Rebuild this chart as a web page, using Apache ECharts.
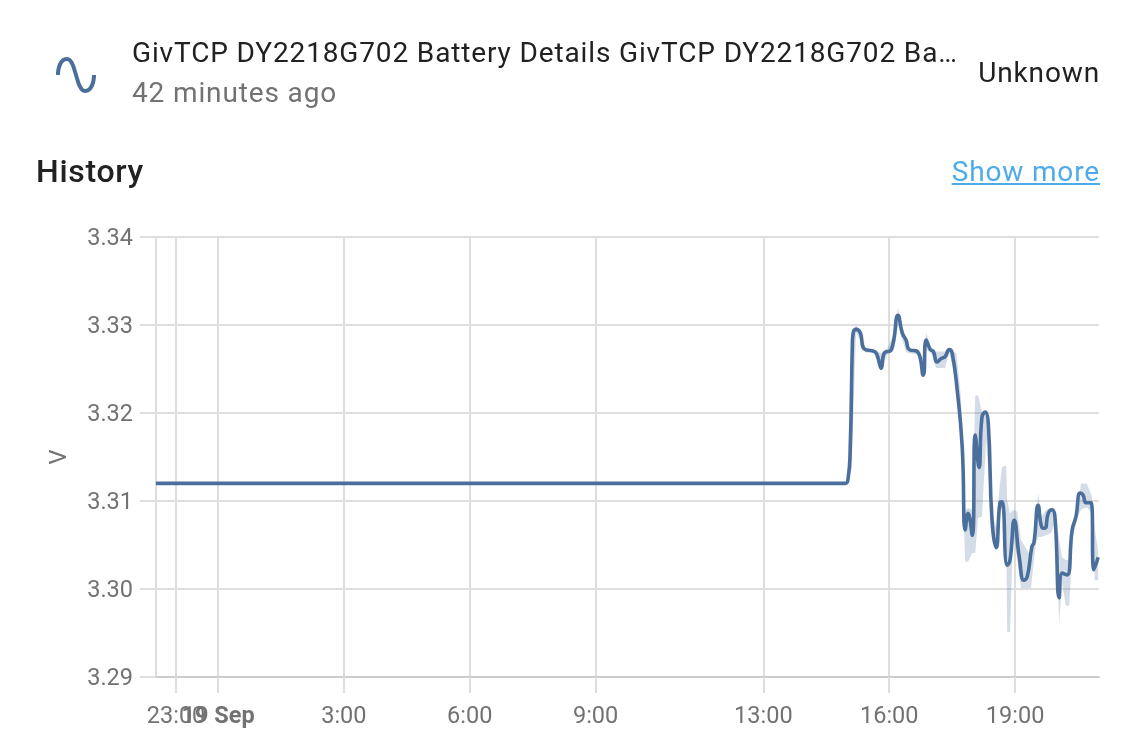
<!DOCTYPE html>
<html><head><meta charset="utf-8">
<script src="https://cdn.jsdelivr.net/npm/echarts@6/dist/echarts.min.js"></script>
<style>
html,body{margin:0;padding:0;background:#fff;width:1122px;height:742px;overflow:hidden;font-family:Roboto,sans-serif}
#chart{position:absolute;left:0;top:0;width:1122px;height:742px}
.t{position:absolute;white-space:nowrap}
</style></head><body>
<div id="chart"></div>
<svg class="t" style="left:52px;top:51px" width="48" height="48" viewBox="0 0 24 24"><path fill="#4a6f9c" d="M16.5,21C13.5,21 12.31,16.76 11.05,12.28C10.14,9.04 9,5 7.5,5C4.11,5 4,11.93 4,12H2C2,11.63 2.06,3 7.5,3C10.5,3 11.71,7.25 12.97,11.74C13.83,14.8 15,19 16.5,19C19.94,19 20.03,12.07 20.03,12H22.03C22.03,12.37 21.97,21 16.5,21Z"/></svg>
<div class="t" style="left:132px;top:37px;font-size:28px;letter-spacing:.86px;color:#212121;line-height:32px">GivTCP DY2218G702 Battery Details GivTCP DY2218G702 Ba…</div>
<div class="t" style="left:132px;top:77px;font-size:28px;letter-spacing:.86px;color:#727272;line-height:32px">42 minutes ago</div>
<div class="t" style="right:22px;top:57px;font-size:28px;letter-spacing:.86px;color:#212121;line-height:32px">Unknown</div>
<div class="t" style="left:36px;top:153px;font-size:32px;font-weight:500;letter-spacing:.7px;color:#212121;line-height:36px">History</div>
<div class="t" style="right:22px;top:156px;font-size:28px;letter-spacing:.86px;color:#4dabea;text-decoration:underline;line-height:32px">Show more</div>
<script>
const hourTicks = [-1, 0, 3, 6, 9, 13, 16, 19];
const hourLabels = ['23:00', '19 Sep', '3:00', '6:00', '9:00', '13:00', '16:00', '19:00'];
const dayTick = [0];
const timeTicks = hourTicks.filter(h => !dayTick.includes(h));
const voltTicks = [3.29, 3.30, 3.31, 3.32, 3.33, 3.34];
const meanHours = [-1.48,14.95,15.02,15.07,15.12,15.14,15.21,15.31,15.40,15.64,15.71,15.81,15.88,16.05,16.21,16.31,16.40,16.48,16.67,16.81,16.88,16.98,17.05,17.14,17.24,17.33,17.43,17.50,17.62,17.74,17.81,17.88,17.98,18.05,18.14,18.21,18.29,18.36,18.45,18.55,18.64,18.69,18.81,18.88,18.98,19.10,19.21,19.29,19.40,19.45,19.55,19.64,19.71,19.79,19.88,19.95,20.05,20.12,20.24,20.36,20.45,20.55,20.62,20.69,20.81,20.88,20.98];
const meanVolts = [3.3120,3.3120,3.3126,3.3158,3.3277,3.3291,3.3295,3.3291,3.3273,3.3270,3.3266,3.3251,3.3268,3.3272,3.3311,3.3291,3.3283,3.3272,3.3270,3.3243,3.3283,3.3272,3.3270,3.3258,3.3262,3.3264,3.3272,3.3268,3.3226,3.3161,3.3067,3.3086,3.3061,3.3175,3.3138,3.3195,3.3201,3.3189,3.3078,3.3047,3.3098,3.3099,3.3027,3.3033,3.3078,3.3036,3.3010,3.3014,3.3048,3.3053,3.3095,3.3070,3.3069,3.3086,3.3090,3.3082,3.2990,3.3018,3.3016,3.3067,3.3082,3.3109,3.3107,3.3098,3.3098,3.3022,3.3036];
const bandHours = [15.00,15.10,15.21,15.36,15.43,15.64,15.81,15.95,16.12,16.21,16.31,16.40,16.48,16.71,16.81,16.88,17.00,17.12,17.33,17.43,17.60,17.71,17.81,17.88,17.98,18.05,18.12,18.21,18.31,18.38,18.45,18.55,18.62,18.69,18.79,18.81,18.88,18.95,19.05,19.14,19.33,19.38,19.45,19.50,19.55,19.62,19.74,19.86,19.95,20.00,20.05,20.12,20.21,20.29,20.38,20.48,20.57,20.71,20.83,20.90,20.98];
const bandMax = [3.3120,3.3289,3.3300,3.3291,3.3274,3.3272,3.3268,3.3273,3.3291,3.3320,3.3294,3.3286,3.3273,3.3272,3.3263,3.3291,3.3274,3.3270,3.3270,3.3273,3.3268,3.3218,3.3090,3.3092,3.3090,3.3220,3.3220,3.3201,3.3203,3.3173,3.3086,3.3070,3.3112,3.3139,3.3140,3.3101,3.3086,3.3090,3.3088,3.3056,3.3041,3.3041,3.3059,3.3078,3.3109,3.3082,3.3090,3.3092,3.3090,3.3073,3.3056,3.3036,3.3033,3.3033,3.3078,3.3090,3.3120,3.3120,3.3105,3.3067,3.3044];
const bandMin = [3.3120,3.3135,3.3291,3.3277,3.3269,3.3268,3.3247,3.3266,3.3272,3.3300,3.3283,3.3269,3.3268,3.3266,3.3241,3.3272,3.3268,3.3251,3.3251,3.3269,3.3232,3.3169,3.3031,3.3031,3.3041,3.3041,3.3081,3.3082,3.3169,3.3124,3.3075,3.3044,3.3086,3.3093,3.3067,3.2951,3.2951,3.3067,3.3033,3.3001,3.3001,3.3001,3.3033,3.3052,3.3059,3.3059,3.3061,3.3064,3.3075,3.3033,3.2961,3.3007,3.2981,3.2981,3.3059,3.3081,3.3090,3.3093,3.3086,3.3010,3.3010];

const chart = echarts.init(document.getElementById('chart'), null, {renderer:'canvas'});
const labelColor = '#727272', gridColor = '#dedede', lineColor = '#4a6f9c';
const xMin = -1.478, xMax = 21.0;
const xLabelFor = v => hourLabels[hourTicks.indexOf(v)];
chart.setOption({
  animation:false,
  backgroundColor:'#fff',
  grid:{left:156,right:23,top:237,height:440,containLabel:false},
  xAxis:[{
    type:'value', min:xMin, max:xMax,
    axisLine:{show:true,onZero:false,lineStyle:{color:'#ccc',width:2}},
    axisTick:{show:true,customValues:hourTicks,length:16,lineStyle:{color:gridColor,width:2}},
    axisLabel:{
      customValues:timeTicks,hideOverlap:false,margin:28,
      color:labelColor,fontFamily:'Roboto',fontSize:23.5,
      formatter:xLabelFor
    },
    splitLine:{show:true,lineStyle:{color:gridColor,width:2}}
  },{
    type:'value', min:xMin, max:xMax, position:'bottom',
    axisLine:{show:false,onZero:false},
    axisTick:{show:false},
    splitLine:{show:false},
    axisLabel:{
      customValues:dayTick,hideOverlap:false,margin:28,
      color:labelColor,fontFamily:'Roboto',fontSize:23.5,fontWeight:'bold',
      formatter:xLabelFor
    }
  }],
  yAxis:{
    type:'value',min:3.29,max:3.34,interval:0.01,
    name:'V',nameLocation:'middle',nameGap:84,nameRotate:90,
    nameTextStyle:{color:labelColor,fontFamily:'Roboto',fontSize:23.5},
    axisLine:{show:true,onZero:false,lineStyle:{color:gridColor,width:2}},
    axisTick:{show:true,length:16,lineStyle:{color:gridColor,width:2}},
    axisLabel:{margin:23,color:labelColor,fontFamily:'Roboto',fontSize:23.5,
      rich:{a:{padding:[5,0,0,0],color:labelColor,fontFamily:'Roboto',fontSize:23.5}},
      formatter:v=>'{a|'+voltTicks.find(t=>Math.abs(t-v)<1e-6).toFixed(2)+'}'},
    splitLine:{show:true,lineStyle:{color:gridColor,width:2}}
  },
  series:[
    {type:'custom',silent:true,clip:true,z:3,coordinateSystem:'cartesian2d',
     encode:{x:0,y:[1,2]},
     data:bandHours.map((h,i)=>[h,bandMin[i],bandMax[i]]),
     renderItem:(params,api)=>{
       if(params.dataIndex!==0) return null;
       const up=bandHours.map((h,i)=>api.coord([h,bandMax[i]]));
       const low=bandHours.map((h,i)=>api.coord([h,bandMin[i]])).reverse();
       return {type:'polygon',shape:{points:up.concat(low)},style:{fill:lineColor,opacity:0.24}};
     }},
    {type:'line',symbol:'none',smooth:0.5,lineStyle:{color:lineColor,width:3.6},z:5,
     data:meanHours.map((h,i)=>[h,meanVolts[i]])}
  ]
});
</script>
</body></html>
